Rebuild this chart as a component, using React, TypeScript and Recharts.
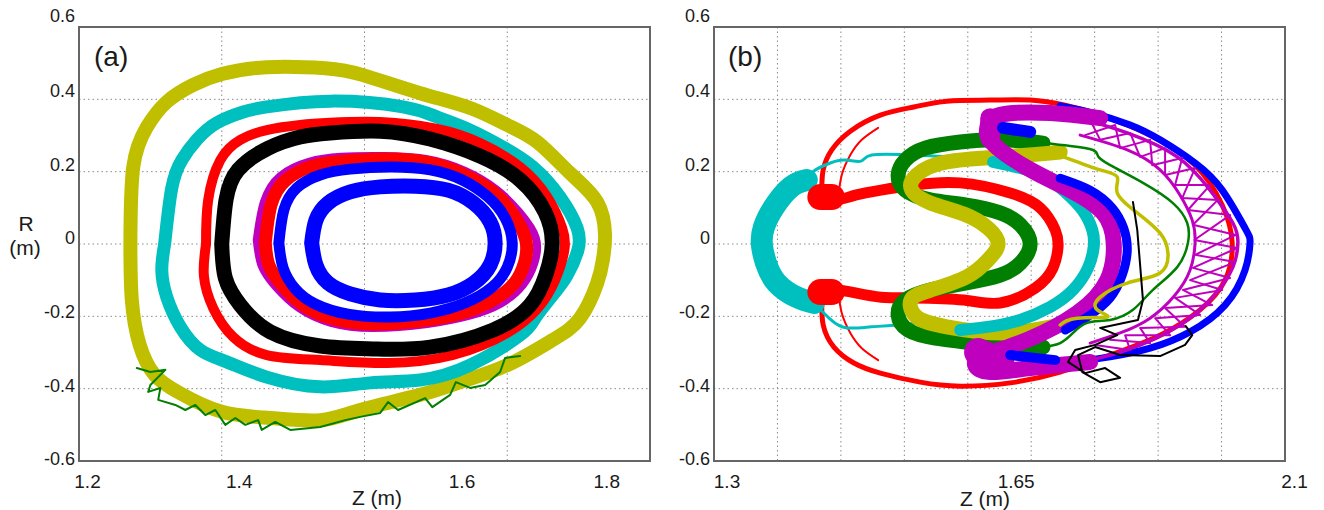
import React from 'react';
import { LineChart, Line, XAxis, YAxis, CartesianGrid, ReferenceArea } from 'recharts';

// Orbit traces as [Z, R] pairs in metres.
// Panel (a)
const A_YELLOW = [
  [1.272, 0.0], [1.276, 0.213], [1.295, 0.323], [1.323, 0.393], [1.36, 0.44], [1.4, 0.47],
  [1.463, 0.489], [1.545, 0.486], [1.598, 0.467], [1.678, 0.417], [1.748, 0.376], [1.8, 0.329],
  [1.842, 0.282], [1.888, 0.196], [1.926, 0.116], [1.937, 0.025], [1.934, -0.044], [1.926, -0.108],
  [1.902, -0.205], [1.864, -0.265], [1.8, -0.335], [1.734, -0.382], [1.678, -0.417], [1.594, -0.459],
  [1.538, -0.487], [1.468, -0.481], [1.4, -0.464], [1.341, -0.412], [1.306, -0.362], [1.285, -0.279],
  [1.274, -0.155], [1.272, 0.0],
];
const A_CYAN = [
  [1.32, 0.0], [1.33, 0.155], [1.344, 0.232], [1.365, 0.288], [1.393, 0.335], [1.43, 0.365],
  [1.463, 0.379], [1.552, 0.395], [1.654, 0.379], [1.702, 0.351], [1.748, 0.315], [1.794, 0.268],
  [1.836, 0.213], [1.874, 0.13], [1.898, 0.044], [1.899, -0.017], [1.884, -0.086], [1.864, -0.141],
  [1.839, -0.205], [1.818, -0.252], [1.748, -0.335], [1.678, -0.376], [1.608, -0.384], [1.538, -0.395],
  [1.463, -0.368], [1.407, -0.326], [1.37, -0.293], [1.342, -0.229], [1.323, -0.147], [1.316, -0.072],
  [1.32, 0.0],
];
const A_RED_OUTER = [
  [1.378, 0.0], [1.381, 0.122], [1.398, 0.232], [1.426, 0.288], [1.463, 0.315], [1.51, 0.329],
  [1.552, 0.335], [1.622, 0.337], [1.702, 0.318], [1.762, 0.279], [1.818, 0.213], [1.856, 0.13],
  [1.877, 0.044], [1.88, -0.017], [1.867, -0.1], [1.843, -0.177], [1.8, -0.246], [1.724, -0.307],
  [1.632, -0.329], [1.538, -0.321], [1.463, -0.307], [1.416, -0.257], [1.388, -0.177], [1.375, -0.088],
  [1.378, 0.0],
];
const A_BLACK = [
  [1.4, 0.0], [1.406, 0.122], [1.423, 0.205], [1.465, 0.265], [1.51, 0.296], [1.552, 0.307],
  [1.622, 0.312], [1.692, 0.29], [1.762, 0.243], [1.818, 0.177], [1.853, 0.088], [1.863, 0.0],
  [1.854, -0.086], [1.832, -0.169], [1.78, -0.238], [1.692, -0.285], [1.612, -0.29], [1.538, -0.282],
  [1.468, -0.243], [1.426, -0.169], [1.405, -0.094], [1.4, 0.0],
];
const A_MAGENTA = [
  [1.449, 0.011], [1.459, 0.116], [1.482, 0.188], [1.522, 0.227], [1.567, 0.241], [1.626, 0.243],
  [1.686, 0.235], [1.741, 0.202], [1.786, 0.149], [1.817, 0.088], [1.84, 0.017], [1.838, -0.053],
  [1.822, -0.113], [1.79, -0.166], [1.746, -0.199], [1.688, -0.221], [1.612, -0.232], [1.553, -0.218],
  [1.508, -0.177], [1.476, -0.119], [1.456, -0.061], [1.449, 0.011],
];
const A_RED_INNER = [
  [1.461, 0.003], [1.469, 0.108], [1.49, 0.177], [1.528, 0.216], [1.57, 0.229], [1.626, 0.235],
  [1.685, 0.227], [1.737, 0.194], [1.78, 0.144], [1.808, 0.083], [1.826, 0.011], [1.824, -0.053],
  [1.81, -0.108], [1.78, -0.155], [1.741, -0.188], [1.688, -0.21], [1.612, -0.221], [1.556, -0.207],
  [1.514, -0.169], [1.484, -0.113], [1.466, -0.058], [1.461, 0.003],
];
const A_BLUE_OUTER = [
  [1.48, 0.003], [1.487, 0.094], [1.505, 0.155], [1.538, 0.191], [1.58, 0.207], [1.636, 0.213],
  [1.692, 0.205], [1.737, 0.177], [1.773, 0.13], [1.797, 0.072], [1.807, 0.003], [1.8, -0.064],
  [1.779, -0.119], [1.741, -0.163], [1.692, -0.191], [1.636, -0.202], [1.577, -0.194], [1.531, -0.166],
  [1.503, -0.124], [1.486, -0.066], [1.48, 0.003],
];
const A_BLUE_INNER = [
  [1.526, 0.003], [1.532, 0.066], [1.549, 0.113], [1.58, 0.144], [1.622, 0.158], [1.671, 0.16],
  [1.717, 0.149], [1.753, 0.113], [1.776, 0.061], [1.783, 0.003], [1.776, -0.058], [1.753, -0.108],
  [1.717, -0.141], [1.671, -0.155], [1.622, -0.155], [1.58, -0.138], [1.549, -0.108], [1.532, -0.058],
  [1.526, 0.003],
];
const A_GREEN = [
  [1.281, -0.343], [1.3, -0.354], [1.321, -0.348], [1.3, -0.39], [1.297, -0.409], [1.314, -0.398],
  [1.311, -0.431], [1.335, -0.445], [1.349, -0.459], [1.363, -0.445], [1.377, -0.473], [1.391, -0.459],
  [1.405, -0.5], [1.419, -0.481], [1.433, -0.5], [1.451, -0.487], [1.456, -0.514], [1.475, -0.492],
  [1.496, -0.514], [1.524, -0.509], [1.538, -0.506], [1.573, -0.487], [1.594, -0.478], [1.622, -0.467],
  [1.633, -0.437], [1.647, -0.459], [1.685, -0.426], [1.695, -0.451], [1.72, -0.417], [1.728, -0.382],
  [1.748, -0.398], [1.769, -0.39], [1.79, -0.354], [1.797, -0.315], [1.818, -0.31],
];

// Panel (b)
const B_RED_OUTER = [
  [1.451, 0.149], [1.453, 0.205], [1.465, 0.26], [1.491, 0.312], [1.534, 0.357], [1.58, 0.379],
  [1.626, 0.395], [1.687, 0.398], [1.743, 0.398], [1.792, 0.384], [1.841, 0.357], [1.911, 0.301],
  [1.974, 0.218], [2.012, 0.108], [2.026, 0.003], [2.016, -0.1], [1.981, -0.182], [1.925, -0.252],
  [1.855, -0.307], [1.785, -0.354], [1.715, -0.384], [1.645, -0.393], [1.589, -0.382], [1.533, -0.357],
  [1.496, -0.329], [1.468, -0.285], [1.453, -0.224], [1.451, -0.155],
];
const B_RED_NET_TOP = [[1.474, 0.127], [1.479, 0.191], [1.491, 0.246], [1.507, 0.288], [1.53, 0.321]];
const B_RED_NET_BOTTOM = [[1.474, -0.127], [1.479, -0.191], [1.491, -0.246], [1.507, -0.288], [1.53, -0.321]];
const B_RED_INNER = [
  [1.446, 0.133], [1.47, 0.122], [1.498, 0.135], [1.534, 0.149], [1.58, 0.163], [1.645, 0.169],
  [1.715, 0.141], [1.757, 0.1], [1.778, 0.039], [1.782, -0.008], [1.775, -0.066], [1.75, -0.122],
  [1.701, -0.163], [1.65, -0.155], [1.58, -0.149], [1.534, -0.147], [1.498, -0.135], [1.47, -0.127],
  [1.446, -0.133],
];
const B_RED_BLOB_TOP = [[1.449, 0.13], [1.465, 0.13]];
const B_RED_BLOB_BOTTOM = [[1.449, -0.133], [1.465, -0.133]];
const B_CYAN_C = [
  [1.43, 0.177], [1.408, 0.158], [1.384, 0.102], [1.37, 0.047], [1.367, 0.0], [1.373, -0.053],
  [1.388, -0.108], [1.416, -0.147], [1.44, -0.163],
];
const B_CYAN_LOOP = [
  [1.43, 0.177], [1.44, 0.202], [1.463, 0.224], [1.484, 0.232], [1.506, 0.229], [1.521, 0.246],
  [1.58, 0.246], [1.65, 0.238], [1.691, 0.227], [1.729, 0.21], [1.764, 0.185], [1.792, 0.144],
  [1.816, 0.094], [1.83, 0.039], [1.832, -0.008], [1.824, -0.066], [1.803, -0.127], [1.771, -0.174],
  [1.729, -0.21], [1.691, -0.227], [1.645, -0.238], [1.626, -0.216], [1.556, -0.224], [1.52, -0.229],
  [1.486, -0.232], [1.464, -0.21], [1.44, -0.163],
];
const B_CYAN_ARC = [
  [1.691, 0.227], [1.729, 0.21], [1.764, 0.185], [1.792, 0.144], [1.816, 0.094], [1.83, 0.039],
  [1.832, -0.008], [1.824, -0.066], [1.803, -0.127], [1.771, -0.174], [1.729, -0.21], [1.691, -0.227],
  [1.645, -0.238],
];
const B_GREEN_BAND = [
  [1.761, 0.279], [1.701, 0.288], [1.645, 0.282], [1.596, 0.265], [1.568, 0.232], [1.558, 0.191],
  [1.568, 0.149], [1.603, 0.122], [1.652, 0.108], [1.701, 0.086], [1.729, 0.053], [1.743, 0.0],
  [1.729, -0.053], [1.701, -0.086], [1.652, -0.108], [1.603, -0.127], [1.568, -0.155], [1.558, -0.196],
  [1.572, -0.238], [1.61, -0.26], [1.652, -0.271], [1.701, -0.282], [1.761, -0.285],
];
const B_GREEN_THIN = [
  [1.761, 0.279], [1.799, 0.271], [1.831, 0.26], [1.838, 0.243], [1.855, 0.218], [1.901, 0.169],
  [1.943, 0.113], [1.963, 0.058], [1.964, 0.003], [1.949, -0.064], [1.915, -0.127], [1.887, -0.182],
  [1.855, -0.21], [1.823, -0.218], [1.803, -0.246], [1.785, -0.274], [1.761, -0.285],
];
const B_YELLOW_BAND = [
  [1.785, 0.254], [1.706, 0.241], [1.626, 0.227], [1.584, 0.191], [1.577, 0.149], [1.604, 0.113],
  [1.65, 0.083], [1.684, 0.044], [1.698, 0.0], [1.684, -0.044], [1.654, -0.091], [1.604, -0.127],
  [1.576, -0.155], [1.584, -0.202], [1.626, -0.229], [1.706, -0.246], [1.785, -0.224],
];
const B_YELLOW_THIN = [
  [1.771, 0.254], [1.809, 0.227], [1.841, 0.205], [1.865, 0.185], [1.865, 0.141], [1.893, 0.086],
  [1.925, 0.03], [1.936, -0.025], [1.925, -0.08], [1.879, -0.108], [1.841, -0.147], [1.837, -0.182],
  [1.851, -0.202], [1.809, -0.205], [1.785, -0.224],
];
const B_MAGENTA_BAND = [
  [1.841, 0.348], [1.771, 0.362], [1.701, 0.357], [1.683, 0.323], [1.69, 0.279], [1.739, 0.21],
  [1.799, 0.149], [1.845, 0.086], [1.86, 0.003], [1.851, -0.1], [1.809, -0.191], [1.739, -0.265],
  [1.68, -0.307], [1.666, -0.335], [1.687, -0.354], [1.743, -0.343], [1.827, -0.326],
];
const B_MAGENTA_BLOB_TOP = [[1.687, 0.348], [1.687, 0.293]];
const B_MAGENTA_BLOB_BOTTOM = [[1.67, -0.299], [1.701, -0.326]];
const B_MAGENTA_INNER_EDGE = [
  [1.813, 0.301], [1.879, 0.26], [1.925, 0.205], [1.953, 0.135], [1.97, 0.066], [1.974, 0.003],
  [1.967, -0.072], [1.946, -0.141], [1.911, -0.205], [1.869, -0.246], [1.827, -0.274],
];
const B_MAGENTA_MESH_1 = [
  [1.827, 0.343], [1.841, 0.288], [1.883, 0.307], [1.897, 0.241], [1.932, 0.265], [1.932, 0.191],
  [1.974, 0.21], [1.956, 0.127], [2.006, 0.122], [1.971, 0.053], [2.031, 0.025], [1.974, -0.03],
  [2.03, -0.05], [1.967, -0.1], [2.012, -0.127], [1.946, -0.149], [1.981, -0.196], [1.918, -0.205],
  [1.939, -0.252], [1.876, -0.252], [1.883, -0.293], [1.834, -0.279],
];
const B_MAGENTA_MESH_2 = [
  [1.82, 0.301], [1.862, 0.329], [1.869, 0.265], [1.911, 0.288], [1.914, 0.218], [1.956, 0.238],
  [1.946, 0.163], [1.995, 0.163], [1.964, 0.094], [2.023, 0.08], [1.973, 0.011], [2.033, -0.011],
  [1.971, -0.066], [2.023, -0.094], [1.957, -0.127], [1.998, -0.169], [1.932, -0.177], [1.96, -0.229],
  [1.897, -0.232], [1.911, -0.274], [1.855, -0.265],
];
const B_MAGENTA_OUTER = [
  [1.813, 0.348], [1.879, 0.307], [1.949, 0.241], [1.995, 0.149], [2.027, 0.058], [2.034, 0.003],
  [2.027, -0.064], [1.999, -0.147], [1.949, -0.229], [1.879, -0.293], [1.827, -0.321],
];
const B_BLUE_OUTER = [
  [1.785, 0.382], [1.831, 0.362], [1.883, 0.329], [1.925, 0.288], [1.974, 0.224], [2.012, 0.149],
  [2.044, 0.044], [2.051, 0.003], [2.044, -0.072], [2.016, -0.169], [1.967, -0.243], [1.911, -0.288],
  [1.855, -0.312], [1.806, -0.326],
];
const B_BLUE_INNER = [
  [1.785, 0.182], [1.827, 0.149], [1.858, 0.1], [1.874, 0.044], [1.879, -0.017], [1.872, -0.086],
  [1.855, -0.149], [1.827, -0.196], [1.792, -0.238],
];
const B_BLUE_BLOB_TOP = [[1.705, 0.321], [1.743, 0.31]];
const B_BLUE_BLOB_BOTTOM = [[1.715, -0.307], [1.778, -0.321]];
const B_BLACK = [
  [1.887, 0.116], [1.893, 0.039], [1.897, -0.058], [1.901, -0.155], [1.894, -0.21], [1.841, -0.232],
  [1.865, -0.252], [1.834, -0.279], [1.806, -0.293], [1.796, -0.326], [1.82, -0.357], [1.848, -0.343],
  [1.869, -0.37], [1.841, -0.382], [1.816, -0.354], [1.81, -0.307], [1.834, -0.285], [1.869, -0.307],
  [1.925, -0.31], [1.96, -0.279], [1.97, -0.252], [1.961, -0.227],
];

// Axis ticks and labels
const Y_TICKS = [-0.6, -0.4, -0.2, 0, 0.2, 0.4, 0.6];
const Y_LABELS = ['-0.6', '-0.4', '-0.2', '0', '0.2', '0.4', '0.6'];
const A_X_TICKS = [1.2, 1.4, 1.6, 1.8, 2.0];
const A_X_LABELS = ['1.2', '1.4', '1.6', '1.8', ''];
const B_X_TICKS = [1.3, 1.3889, 1.4778, 1.5667, 1.6556, 1.7444, 1.8333, 1.9222, 2.0111, 2.1];
const B_X_LABELS = ['1.3', '', '', '', '', '1.65', '', '', '', '2.1'];

// the source figure's labels sit a little off their grid lines
const Y_LABEL_SHIFT = [-2.5, -3, -4.5, -6.5, -7, -9, -11];
const A_X_LABEL_SHIFT = [8.5, 17.5, 97.5, 99.5, 0];
const B_X_LABEL_SHIFT = [13, 0, 0, 0, 0, -15, 0, 0, 0, 9.5];

const C = {
  yellow: '#bfbf00',
  cyan: '#00bfbf',
  red: '#ff0000',
  magenta: '#bf00bf',
  blue: '#0000ff',
  green: '#007f00',
  black: '#000000',
};

const FONT = '"Liberation Sans", Arial, sans-serif';
const AXIS_COLOR = '#666';

type Series = { id: string; data: number[][]; color: string; width: number; type?: 'natural' | 'linear' };

const A_SERIES: Series[] = [
  { id: 'a-yellow', data: A_YELLOW, color: C.yellow, width: 14 },
  { id: 'a-cyan', data: A_CYAN, color: C.cyan, width: 13 },
  { id: 'a-green', data: A_GREEN, color: C.green, width: 2, type: 'linear' },
  { id: 'a-red-outer', data: A_RED_OUTER, color: C.red, width: 10 },
  { id: 'a-black', data: A_BLACK, color: C.black, width: 15 },
  { id: 'a-magenta', data: A_MAGENTA, color: C.magenta, width: 8 },
  { id: 'a-red-inner', data: A_RED_INNER, color: C.red, width: 13 },
  { id: 'a-blue-outer', data: A_BLUE_OUTER, color: C.blue, width: 11 },
  { id: 'a-blue-inner', data: A_BLUE_INNER, color: C.blue, width: 15 },
];

const B_SERIES: Series[] = [
  { id: 'b-red-outer', data: B_RED_OUTER, color: C.red, width: 5 },
  { id: 'b-red-net-top', data: B_RED_NET_TOP, color: C.red, width: 2 },
  { id: 'b-red-net-bottom', data: B_RED_NET_BOTTOM, color: C.red, width: 2 },
  { id: 'b-cyan-c', data: B_CYAN_C, color: C.cyan, width: 22 },
  { id: 'b-cyan-loop', data: B_CYAN_LOOP, color: C.cyan, width: 3 },
  { id: 'b-red-inner', data: B_RED_INNER, color: C.red, width: 11 },
  { id: 'b-red-blob-top', data: B_RED_BLOB_TOP, color: C.red, width: 26, type: 'linear' },
  { id: 'b-red-blob-bottom', data: B_RED_BLOB_BOTTOM, color: C.red, width: 26, type: 'linear' },
  { id: 'b-green-band', data: B_GREEN_BAND, color: C.green, width: 15 },
  { id: 'b-yellow-band', data: B_YELLOW_BAND, color: C.yellow, width: 15 },
  { id: 'b-cyan-arc', data: B_CYAN_ARC, color: C.cyan, width: 12 },
  { id: 'b-blue-outer', data: B_BLUE_OUTER, color: C.blue, width: 7 },
  { id: 'b-magenta-band', data: B_MAGENTA_BAND, color: C.magenta, width: 16 },
  { id: 'b-magenta-blob-top', data: B_MAGENTA_BLOB_TOP, color: C.magenta, width: 20, type: 'linear' },
  { id: 'b-magenta-blob-bottom', data: B_MAGENTA_BLOB_BOTTOM, color: C.magenta, width: 28, type: 'linear' },
  { id: 'b-blue-inner', data: B_BLUE_INNER, color: C.blue, width: 9 },
  { id: 'b-blue-blob-top', data: B_BLUE_BLOB_TOP, color: C.blue, width: 12, type: 'linear' },
  { id: 'b-blue-blob-bottom', data: B_BLUE_BLOB_BOTTOM, color: C.blue, width: 10, type: 'linear' },
  { id: 'b-magenta-inner-edge', data: B_MAGENTA_INNER_EDGE, color: C.magenta, width: 3 },
  { id: 'b-magenta-mesh-1', data: B_MAGENTA_MESH_1, color: C.magenta, width: 2, type: 'linear' },
  { id: 'b-magenta-mesh-2', data: B_MAGENTA_MESH_2, color: C.magenta, width: 2, type: 'linear' },
  { id: 'b-magenta-outer', data: B_MAGENTA_OUTER, color: C.magenta, width: 3.5 },
  { id: 'b-green-thin', data: B_GREEN_THIN, color: C.green, width: 2.5 },
  { id: 'b-yellow-thin', data: B_YELLOW_THIN, color: C.yellow, width: 3.5 },
  { id: 'b-black', data: B_BLACK, color: C.black, width: 2, type: 'linear' },
];

const toPoints = (arr: number[][]) => arr.map(([z, r]) => ({ z, r }));

const findIndex = (ticks: number[], v: number) => ticks.findIndex((t) => Math.abs(t - v) < 1e-6);

const renderYTick = (props: any) => {
  const { x, y, payload } = props;
  const i = findIndex(Y_TICKS, payload.value);
  return (
    <text x={x} y={y + (Y_LABEL_SHIFT[i] || 0)} dy="0.355em" textAnchor="end" fontSize={18} fontFamily={FONT} fill="#1a1a1a">
      {Y_LABELS[i]}
    </text>
  );
};

const makeXTick = (ticks: number[], labels: string[], shifts: number[]) => (props: any) => {
  const { x, y, payload } = props;
  const i = findIndex(ticks, payload.value);
  if (i < 0 || !labels[i]) return <g />;
  return (
    <text x={x + shifts[i]} y={y + 27} textAnchor="middle" fontSize={19} fontFamily={FONT} fill="#1a1a1a">
      {labels[i]}
    </text>
  );
};

interface PanelProps {
  series: Series[];
  xDomain: [number, number];
  xTicks: number[];
  xLabels: string[];
  xShift: number[];
  width: number;
  yAxisWidth: number;
  marginRight: number;
}

const Panel: React.FC<PanelProps> = ({ series, xDomain, xTicks, xLabels, xShift, width, yAxisWidth, marginRight }) => (
  <LineChart width={width} height={510} margin={{ top: 27, right: marginRight, bottom: 0, left: 0 }}>
    <CartesianGrid stroke="#8a8a8a" strokeDasharray="1.5 3" />
    <XAxis
      type="number"
      dataKey="z"
      domain={xDomain}
      ticks={xTicks}
      interval={0}
      allowDataOverflow
      height={49}
      tickSize={0}
      tickMargin={0}
      tickLine={false}
      axisLine={{ stroke: AXIS_COLOR, strokeWidth: 2 }}
      tick={makeXTick(xTicks, xLabels, xShift)}
    />
    <YAxis
      type="number"
      dataKey="r"
      domain={[-0.6, 0.6]}
      ticks={Y_TICKS}
      interval={0}
      allowDataOverflow
      width={yAxisWidth}
      tickSize={0}
      tickMargin={4}
      tickLine={false}
      axisLine={{ stroke: AXIS_COLOR, strokeWidth: 2 }}
      tick={renderYTick}
    />
    <ReferenceArea x1={xDomain[0]} x2={xDomain[1]} y1={-0.6} y2={0.6} fill="none" stroke={AXIS_COLOR} strokeWidth={2} />
    {series.map((s) => (
      <Line
        key={s.id}
        data={toPoints(s.data)}
        dataKey="r"
        type={s.type || 'natural'}
        stroke={s.color}
        strokeWidth={s.width}
        strokeLinejoin="round"
        strokeLinecap="round"
        dot={false}
        activeDot={false}
        isAnimationActive={false}
      />
    ))}
  </LineChart>
);

const textStyle = { fontFamily: FONT, fill: '#1a1a1a' };

export default function App() {
  return (
    <div style={{ position: 'absolute', left: 0, top: 0, width: 1324, height: 510, background: '#fff' }}>
      <div style={{ position: 'absolute', left: 0, top: 0 }}>
        <Panel
          series={A_SERIES}
          xDomain={[1.2, 2.0]}
          xTicks={A_X_TICKS}
          xLabels={A_X_LABELS}
          xShift={A_X_LABEL_SHIFT}
          width={660}
          yAxisWidth={79}
          marginRight={10}
        />
      </div>
      <div style={{ position: 'absolute', left: 660, top: 0 }}>
        <Panel
          series={B_SERIES}
          xDomain={[1.3, 2.1]}
          xTicks={B_X_TICKS}
          xLabels={B_X_LABELS}
          xShift={B_X_LABEL_SHIFT}
          width={664}
          yAxisWidth={54}
          marginRight={39}
        />
      </div>
      <svg width={1324} height={510} style={{ position: 'absolute', left: 0, top: 0, pointerEvents: 'none' }}>
        <text x={94} y={66} fontSize={28} style={textStyle}>(a)</text>
        <text x={728} y={66} fontSize={28} style={textStyle}>(b)</text>
        <text x={26} y={231} fontSize={21} textAnchor="middle" style={textStyle}>R</text>
        <text x={25} y={255} fontSize={21} textAnchor="middle" style={textStyle}>(m)</text>
        <text x={377} y={505} fontSize={21} textAnchor="middle" style={textStyle}>Z (m)</text>
        <text x={985} y={506} fontSize={21} textAnchor="middle" style={textStyle}>Z (m)</text>
      </svg>
    </div>
  );
}
